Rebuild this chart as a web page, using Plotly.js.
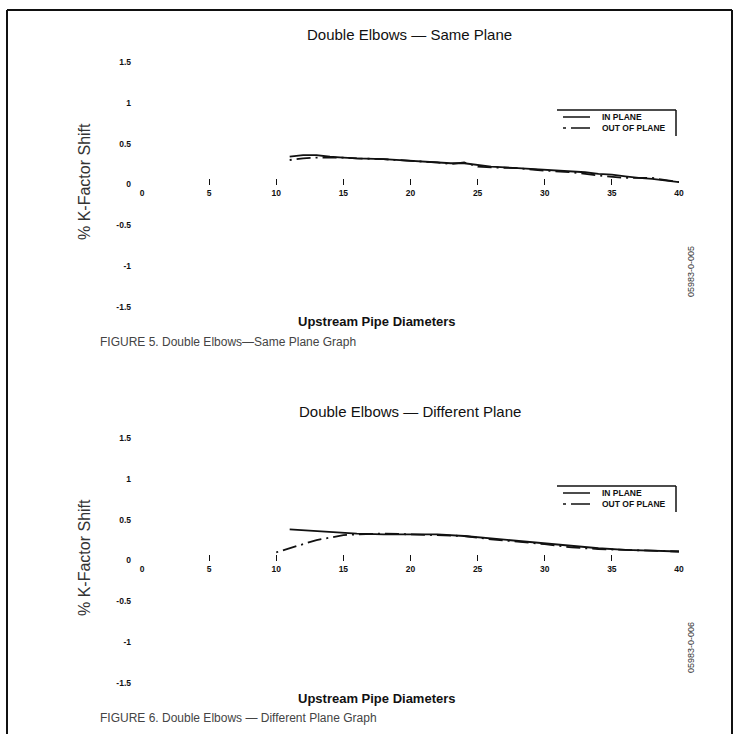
<!DOCTYPE html>
<html>
<head>
<meta charset="utf-8">
<script src="https://cdn.plot.ly/plotly-3.0.1.min.js"></script>
<style>
html,body{margin:0;padding:0;background:#fff;}
#chart{width:735px;height:734px;}
</style>
</head>
<body>
<div id="chart"></div>
<script>
// ---- Data ----
const xTicks = [0, 5, 10, 15, 20, 25, 30, 35, 40];
const xTickLabels = ['0', '5', '10', '15', '20', '25', '30', '35', '40'];
const yTicks = [-1.5, -1, -0.5, 0, 0.5, 1, 1.5];
const yTickLabels = ['-1.5', '-1', '-0.5', '0', '0.5', '1', '1.5'];

// Figure 5: Double Elbows — Same Plane
const samePlaneInX  = [11, 12, 13, 14, 15, 16, 18, 20, 22, 23, 24, 25, 26, 28, 30, 32, 33, 34, 35, 36, 37, 38, 39, 40];
const samePlaneInY  = [0.34, 0.36, 0.36, 0.34, 0.33, 0.32, 0.31, 0.29, 0.27, 0.26, 0.26, 0.24, 0.22, 0.20, 0.18, 0.16, 0.15, 0.13, 0.12, 0.10, 0.08, 0.07, 0.05, 0.03];
const samePlaneOutX = [11, 12, 13, 14, 15, 16, 18, 20, 22, 23, 24, 25, 26, 28, 30, 32, 34, 36, 38, 40];
const samePlaneOutY = [0.30, 0.32, 0.33, 0.33, 0.33, 0.32, 0.31, 0.29, 0.27, 0.25, 0.27, 0.22, 0.21, 0.20, 0.17, 0.15, 0.11, 0.08, 0.08, 0.03];

// Figure 6: Double Elbows — Different Plane
const diffPlaneInX  = [11, 12, 13, 14, 15, 16, 18, 20, 22, 24, 26, 28, 30, 32, 34, 36, 38, 40];
const diffPlaneInY  = [0.38, 0.37, 0.36, 0.35, 0.34, 0.33, 0.32, 0.32, 0.32, 0.30, 0.27, 0.24, 0.21, 0.18, 0.15, 0.13, 0.12, 0.11];
const diffPlaneOutX = [10, 11, 12, 13, 14, 15, 16, 18, 20, 22, 24, 26, 28, 30, 32, 34, 36, 38, 40];
const diffPlaneOutY = [0.10, 0.15, 0.20, 0.25, 0.28, 0.31, 0.32, 0.33, 0.32, 0.31, 0.30, 0.26, 0.23, 0.20, 0.16, 0.14, 0.13, 0.12, 0.11];

const seriesNames = ['IN PLANE', 'OUT OF PLANE'];
const chartTitles = ['Double Elbows \u2014 Same Plane', 'Double Elbows \u2014 Different Plane'];
const xAxisTitle = 'Upstream Pipe Diameters';
const yAxisTitle = '% K-Factor Shift';
const captions = ['FIGURE 5. Double Elbows\u2014Same Plane Graph', 'FIGURE 6. Double Elbows \u2014 Different Plane Graph'];
const figureCodes = ['05983-0-005', '05983-0-006'];

// ---- Layout helpers (pixel -> paper) ----
const W = 735, H = 734;
const px = x => x / W;
const py = y => 1 - y / H;
const FONT = 'Liberation Sans, Arial, sans-serif';
const INK = '#111';
const DASHDOT = '2px,5px,14px,5px';

const panels = [
  {top: 62, bottom: 307, off: 0},
  {top: 438, bottom: 683, off: 376}
];
const xLeft = 142, xRight = 679;

const traces = [
  {x: samePlaneInX, y: samePlaneInY, name: seriesNames[0], xaxis: 'x', yaxis: 'y',
   mode: 'lines', line: {color: INK, width: 1.8}, showlegend: false},
  {x: samePlaneOutX, y: samePlaneOutY, name: seriesNames[1], xaxis: 'x', yaxis: 'y',
   mode: 'lines', line: {color: INK, width: 1.8, dash: DASHDOT}, showlegend: false},
  {x: diffPlaneInX, y: diffPlaneInY, name: seriesNames[0], xaxis: 'x2', yaxis: 'y2',
   mode: 'lines', line: {color: INK, width: 1.8}, showlegend: false},
  {x: diffPlaneOutX, y: diffPlaneOutY, name: seriesNames[1], xaxis: 'x2', yaxis: 'y2',
   mode: 'lines', line: {color: INK, width: 1.8, dash: DASHDOT}, showlegend: false}
];

function xAxis(p) {
  const zeroPx = (p.top + p.bottom) / 2;
  return {
    domain: [px(xLeft), px(xRight)], range: [0, 40], anchor: 'free', position: py(zeroPx),
    tickmode: 'array', tickvals: xTicks, ticktext: xTickLabels,
    ticks: 'inside', ticklen: 6, tickwidth: 1, tickcolor: INK,
    showline: false, showgrid: false, zeroline: false,
    tickfont: {family: FONT, size: 8.5, color: INK, weight: 'bold'},
    ticklabelstandoff: 2, fixedrange: true
  };
}
function yAxis(p, xName) {
  return {
    domain: [py(p.bottom), py(p.top)], range: [-1.5, 1.5], anchor: xName,
    tickmode: 'array', tickvals: yTicks, ticktext: yTickLabels,
    ticks: '', showline: false, showgrid: false, zeroline: false,
    tickfont: {family: FONT, size: 8.5, color: INK, weight: 'bold'},
    ticklabelstandoff: 10, fixedrange: true
  };
}

const annotations = [];
const shapes = [];

// outer frame
shapes.push({type: 'line', xref: 'paper', yref: 'paper', x0: px(7), x1: px(7), y0: py(10), y1: py(734), line: {color: INK, width: 2}});
shapes.push({type: 'line', xref: 'paper', yref: 'paper', x0: px(7), x1: px(732), y0: py(10), y1: py(10), line: {color: INK, width: 2}});
shapes.push({type: 'line', xref: 'paper', yref: 'paper', x0: px(732), x1: px(732), y0: py(10), y1: py(734), line: {color: INK, width: 2}});

panels.forEach((p, i) => {
  const o = p.off;
  annotations.push({xref: 'paper', yref: 'paper', x: px(410), y: py(35 + o), text: chartTitles[i],
    showarrow: false, xanchor: 'center', yanchor: 'middle', font: {family: FONT, size: 15, color: INK}});
  annotations.push({xref: 'paper', yref: 'paper', x: px(377), y: py(322 + o), text: xAxisTitle,
    showarrow: false, xanchor: 'center', yanchor: 'middle', font: {family: FONT, size: 13, color: INK, weight: 'bold'}});
  annotations.push({xref: 'paper', yref: 'paper', x: px(84), y: py(182 + o), text: yAxisTitle, textangle: -90,
    showarrow: false, xanchor: 'center', yanchor: 'middle', font: {family: FONT, size: 16, color: '#333'}});
  annotations.push({xref: 'paper', yref: 'paper', x: px(98), y: py(342 + o), text: captions[i],
    showarrow: false, xanchor: 'left', yanchor: 'middle', font: {family: FONT, size: 12, color: '#444'}});
  annotations.push({xref: 'paper', yref: 'paper', x: px(691), y: py(272 + o), text: figureCodes[i], textangle: -90,
    showarrow: false, xanchor: 'center', yanchor: 'middle', font: {family: FONT, size: 9, color: '#333'}});
  // legend box (top + right edge) with samples
  shapes.push({type: 'line', xref: 'paper', yref: 'paper', x0: px(557), x1: px(676), y0: py(110 + o), y1: py(110 + o), line: {color: INK, width: 1.5}});
  shapes.push({type: 'line', xref: 'paper', yref: 'paper', x0: px(676), x1: px(676), y0: py(110 + o), y1: py(136 + o), line: {color: INK, width: 1.5}});
  shapes.push({type: 'line', xref: 'paper', yref: 'paper', x0: px(563), x1: px(590), y0: py(117 + o), y1: py(117 + o), line: {color: INK, width: 1.5}});
  shapes.push({type: 'line', xref: 'paper', yref: 'paper', x0: px(563), x1: px(590), y0: py(128 + o), y1: py(128 + o), line: {color: INK, width: 1.5, dash: '3px,5px,19px,5px'}});
  annotations.push({xref: 'paper', yref: 'paper', x: px(600), y: py(117 + o), text: seriesNames[0],
    showarrow: false, xanchor: 'left', yanchor: 'middle', font: {family: FONT, size: 8.5, color: INK, weight: 'bold'}});
  annotations.push({xref: 'paper', yref: 'paper', x: px(600), y: py(128 + o), text: seriesNames[1],
    showarrow: false, xanchor: 'left', yanchor: 'middle', font: {family: FONT, size: 8.5, color: INK, weight: 'bold'}});
});

const layout = {
  width: W, height: H,
  margin: {l: 0, r: 0, t: 0, b: 0, pad: 0},
  paper_bgcolor: '#fff', plot_bgcolor: 'rgba(0,0,0,0)',
  showlegend: false,
  xaxis: xAxis(panels[0]), yaxis: yAxis(panels[0], 'x'),
  xaxis2: xAxis(panels[1]), yaxis2: yAxis(panels[1], 'x2'),
  annotations: annotations, shapes: shapes,
  font: {family: FONT, color: INK}
};

Plotly.newPlot('chart', traces, layout, {staticPlot: true, displayModeBar: false});
</script>
</body>
</html>
